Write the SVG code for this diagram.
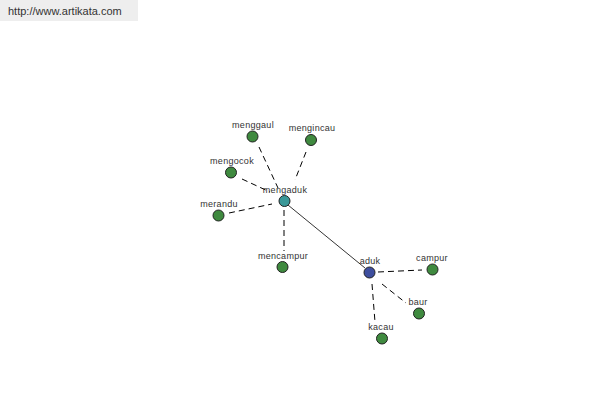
<svg xmlns="http://www.w3.org/2000/svg" width="600" height="400" viewBox="0 0 600 400">
<style>
.lbl{font-family:"Liberation Sans",Arial,sans-serif;font-size:9px;fill:#333;text-anchor:middle;letter-spacing:0.3px}
.dash{stroke:#000;stroke-width:1;stroke-dasharray:6,4;fill:none}
.solid{stroke:#000;stroke-width:0.8;fill:none}
.n{stroke:#222;stroke-width:1}
.g{fill:#3f8a3f}
.t{fill:#3a9898}
.b{fill:#3e4e9e}
</style>
<rect x="0" y="0" width="138" height="21" fill="#eeeeee"/>
<text x="8" y="15" style="font-family:'Liberation Sans',Arial,sans-serif;font-size:11px;fill:#333">http://www.artikata.com</text>
<g id="connectors">
<line class="solid" x1="288" y1="205" x2="365" y2="268"/>
<line class="dash" x1="259" y1="147" x2="278" y2="188"/>
<line class="dash" x1="306" y1="152" x2="295" y2="180"/>
<line class="dash" x1="242" y1="179" x2="270" y2="192"/>
<line class="dash" x1="229" y1="213" x2="272" y2="204"/>
<line class="dash" x1="284" y1="210" x2="284" y2="251"/>
<line class="dash" x1="378" y1="272" x2="422" y2="270"/>
<line class="dash" x1="382" y1="284" x2="406" y2="303"/>
<line class="dash" x1="372" y1="284" x2="375" y2="322"/>
</g>
<g id="menggaul"><circle class="n g" cx="252.5" cy="136.5" r="5.5"/><text class="lbl" x="253" y="128">menggaul</text></g>
<g id="mengincau"><circle class="n g" cx="311" cy="140" r="5.5"/><text class="lbl" x="312" y="131">mengincau</text></g>
<g id="mengocok"><circle class="n g" cx="231" cy="172.5" r="5.5"/><text class="lbl" x="232" y="164">mengocok</text></g>
<g id="mengaduk"><circle class="n t" cx="284.5" cy="201" r="5.5"/><text class="lbl" x="285" y="193">mengaduk</text></g>
<g id="merandu"><circle class="n g" cx="218.5" cy="215.5" r="5.5"/><text class="lbl" x="219" y="207">merandu</text></g>
<g id="mencampur"><circle class="n g" cx="282.5" cy="267" r="5.5"/><text class="lbl" x="283" y="259">mencampur</text></g>
<g id="aduk"><circle class="n b" cx="369.5" cy="272.5" r="5.5"/><text class="lbl" x="370" y="264">aduk</text></g>
<g id="campur"><circle class="n g" cx="432.5" cy="269.5" r="5.5"/><text class="lbl" x="432" y="261">campur</text></g>
<g id="baur"><circle class="n g" cx="419" cy="313.5" r="5.5"/><text class="lbl" x="418" y="305">baur</text></g>
<g id="kacau"><circle class="n g" cx="382" cy="338.5" r="5.5"/><text class="lbl" x="381" y="330">kacau</text></g>
</svg>
